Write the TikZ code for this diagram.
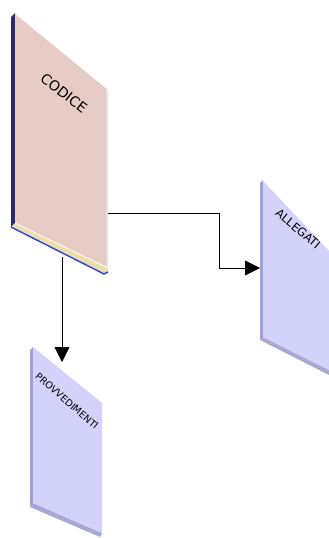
\documentclass[tikz,border=0pt]{standalone}
\usepackage{fontspec}
\setmainfont{DejaVu Sans}
\usetikzlibrary{arrows.meta}

\definecolor{codiceface}{RGB}{230,204,197}
\definecolor{codiceside}{RGB}{42,42,110}
\definecolor{codicebase}{RGB}{236,221,170}
\definecolor{codiceedge}{RGB}{44,68,224}
\definecolor{codicelight}{RGB}{230,230,224}
\definecolor{sheetface}{RGB}{210,210,250}
\definecolor{sheetside}{RGB}{160,160,214}
\definecolor{sheetbase}{RGB}{168,168,214}

\begin{document}
\begin{tikzpicture}[x=1pt,y=-1pt,
  wire/.style={line width=0.9pt, black},
  headtip/.style={-{Triangle[length=15pt,width=15pt]}},
  sheetlabel/.style={inner sep=0pt, text=black}]
\useasboundingbox (0,0) rectangle (329,538);

% ---- CODICE: thick book seen at an angle
\fill[codiceside] (11,17) -- (15,13) -- (15,223) -- (11,227) -- cycle;
\fill[codicebase] (11,227) -- (15,223) -- (108,268) -- (108,272) -- (104,274) -- cycle;
\draw[codiceedge, line width=1.4pt] (11,227) -- (104,274) -- (108,272);
\fill[codiceface] (15,14) -- (108,90) -- (108,268) -- (15,223) -- cycle;
\fill[codicelight] (106,88.4) -- (108,90) -- (108,268) -- (106,267) -- cycle;
\draw[white, line width=0.8pt] (15,223) -- (108,268);
\node[sheetlabel, rotate=-38, font=\fontsize{14}{16}\selectfont] (codice) at (64,93) {CODICE};

% ---- ALLEGATI: thin sheet
\fill[sheetside] (260,183) -- (263,180) -- (263,337) -- (260,340) -- cycle;
\fill[sheetbase] (260,340) -- (263,337) -- (329,370) -- (329,375) -- cycle;
\fill[sheetface] (263,181) -- (329,251) -- (329,370) -- (263,337) -- cycle;
\node[sheetlabel, rotate=-40, font=\fontsize{11.5}{13}\selectfont] (allegati) at (298,229) {ALLEGATI};

% ---- PROVVEDIMENTI: thin sheet
\fill[sheetside] (30,350) -- (33,347) -- (33,503) -- (30,507) -- cycle;
\fill[sheetbase] (30,507) -- (33,503) -- (102,533) -- (100,537) -- cycle;
\fill[sheetface] (33,347) -- (102,403) -- (102,533) -- (33,503) -- cycle;
\node[sheetlabel, rotate=-41, font=\fontsize{9.6}{11}\selectfont] (provvedimenti) at (67,401) {PROVVEDIMENTI};

% ---- connector ends on the sheets
\coordinate (codiceE) at (108,213);
\coordinate (codiceS) at (62,257);
\coordinate (allegatiW) at (260,268);
\coordinate (provvN) at (62,362);

% ---- connectors
\draw[wire, headtip] (codiceE) -- ++(111,0) |- (allegatiW);
\draw[wire, headtip] (codiceS) -- (provvN);
\end{tikzpicture}
\end{document}
